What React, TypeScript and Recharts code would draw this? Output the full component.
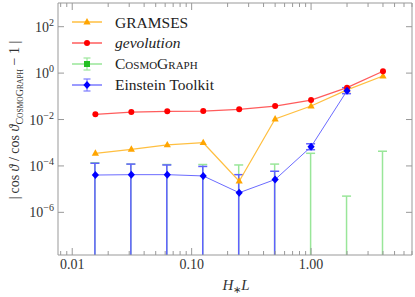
import React from 'react';
import { ComposedChart, Line, Bar, XAxis, YAxis, Legend } from 'recharts';

// box side lengths H_* L
const scales = [0.015625, 0.03125, 0.0625, 0.125, 0.25, 0.5, 1, 2, 4];
const gramses = [3.5e-4, 5.2e-4, 8.0e-4, 1.0e-3, 2.2e-5, 1.05e-2, 3.8e-2, 0.19, 0.75];
const gevolution = [0.0167, 0.021, 0.0225, 0.0232, 0.0275, 0.038, 0.069, 0.235, 1.2];
// CosmoGRAPH: only the upper end of the error bar is visible (centre is 0)
const cosmographUpper = [1.37e-4, 1.2e-4, 1.15e-4, 1.15e-4, 1.1e-4, 1.2e-4, 3.5e-4, 5.0e-6, 4.3e-4];
const einstein = [4.05e-5, 4.2e-5, 4.2e-5, 3.7e-5, 7.0e-6, 2.6e-5, 6.7e-4, 0.174, null];
const einsteinUpper = [1.3e-4, 1.2e-4, 1.1e-4, 9.5e-5, 4.2e-5, 5.9e-5, 9.0e-4, 0.235, null];
const einsteinLower = [0, 0, 0, 0, 0, 0, 5.0e-4, 0.13, null];

const xMajor = [0.01, 0.1, 1];
const xMinor = [0.008, 0.009, 0.02, 0.03, 0.04, 0.05, 0.06, 0.07, 0.08, 0.09,
  0.2, 0.3, 0.4, 0.5, 0.6, 0.7, 0.8, 0.9, 2, 3, 4, 5, 6, 7];
const yTicks = [1e-6, 1e-4, 1e-2, 1, 100];

const X_DOMAIN = [0.0076, 7];
const Y_DOMAIN = [1.45e-8, 1050];
const Y_ZERO = Y_DOMAIN[0]; // zero sits below the log axis, bars run to the bottom edge
const AXIS = '#999';
const SERIF = 'Liberation Serif, Times New Roman, serif';

const data = scales.map((x, i) => ({
  x,
  gramses: gramses[i],
  gevolution: gevolution[i],
  cgRange: [Y_ZERO, cosmographUpper[i]],
  cgLow: 0,
  et: einstein[i],
  etRange: einstein[i] == null ? null : [Math.max(einsteinLower[i] as number, Y_ZERO), einsteinUpper[i]],
  etLow: einsteinLower[i],
}));

const Triangle = ({ cx, cy, fill }: any) => {
  if (cx == null || cy == null) return <g />;
  return <path d={`M${cx},${cy - 4}L${cx + 3.6},${cy + 2.4}L${cx - 3.6},${cy + 2.4}Z`} fill={fill} />;
};
const Diamond = ({ cx, cy, fill }: any) => {
  if (cx == null || cy == null) return <g />;
  return <path d={`M${cx},${cy - 4}L${cx + 3.6},${cy}L${cx},${cy + 4}L${cx - 3.6},${cy}Z`} fill={fill} />;
};
const Circle = ({ cx, cy, fill }: any) => {
  if (cx == null || cy == null) return <g />;
  return <circle cx={cx} cy={cy} r={3} fill={fill} />;
};

// error bar drawn as a thin range bar: whisker + cap on top, cap at bottom only when it has a finite lower end
const makeWhisker = (color: string, lowKey: string) => (props: any) => {
  const { x, y, width, height, payload } = props;
  if (x == null || y == null || !height) return <g />;
  const cx = x + width / 2;
  const hasLow = payload[lowKey] > 0;
  return (
    <g stroke={color} strokeWidth={1.5}>
      <line x1={cx} x2={cx} y1={y} y2={y + height} />
      <line x1={cx - 4.5} x2={cx + 4.5} y1={y} y2={y} />
      {hasLow && <line x1={cx - 4.5} x2={cx + 4.5} y1={y + height} y2={y + height} />}
    </g>
  );
};

const XTickBottom = ({ x, y, payload }: any) => {
  const major = xMajor.includes(payload.value);
  return (
    <g>
      <line x1={x} x2={x} y1={y} y2={y - (major ? 7 : 4)} stroke={AXIS} />
      {major && (
        <text x={x} y={y + 14} textAnchor="middle" fontFamily={SERIF} fontSize={14} fill="#333">
          {payload.value.toFixed(2)}
        </text>
      )}
    </g>
  );
};

const XTickTop = ({ x, y, payload }: any) => {
  const major = xMajor.includes(payload.value);
  return <line x1={x} x2={x} y1={y} y2={y + (major ? 7 : 4)} stroke={AXIS} />;
};

const powLabel = (v: number) => {
  const e = Math.round(Math.log10(v));
  return e < 0 ? `\u2212${-e}` : `${e}`;
};

const YTickLeft = ({ x, y, payload }: any) => (
  <g>
    <line x1={x} x2={x + 6} y1={y} y2={y} stroke={AXIS} />
    <text x={x - 4} y={y + 5} textAnchor="end" fontFamily={SERIF} fontSize={14} fill="#333">
      10<tspan dy={-6} fontSize={10}>{powLabel(payload.value)}</tspan>
    </text>
  </g>
);

const YTickRight = ({ x, y }: any) => <line x1={x} x2={x - 6} y1={y} y2={y} stroke={AXIS} />;

const YLabel = () => (
  <text transform="translate(19,120) rotate(-90)" textAnchor="middle" fontFamily={SERIF} fontSize={14} fill="#333">
    |{'\u2009'}cos <tspan fontStyle="italic">ϑ</tspan> / cos <tspan fontStyle="italic">ϑ</tspan>
    <tspan dy={3.5} fontSize={10}>C</tspan>
    <tspan fontSize={7.5}>OSMO</tspan>
    <tspan fontSize={10}>G</tspan>
    <tspan fontSize={7.5}>RAPH</tspan>
    <tspan dy={-3.5}>{' \u2212 1 |'}</tspan>
  </text>
);

const XLabel = () => (
  <text x={236} y={290} textAnchor="middle" fontFamily={SERIF} fontSize={15} fill="#333">
    <tspan fontStyle="italic">H</tspan>
    <tspan dy={3} fontSize={10}>∗</tspan>
    <tspan dy={-3} fontStyle="italic">L</tspan>
  </text>
);

const legendItems = [
  { id: 'gramses', label: <span>GRAMSES</span>, line: '#ffbf40', color: '#ffa500', marker: 'tri', err: false },
  { id: 'gevolution', label: <i>gevolution</i>, line: '#ff5c5c', color: '#ff0000', marker: 'circ', err: false },
  { id: 'cosmograph', label: <span style={{ fontVariant: 'small-caps' }}>CosmoGraph</span>, line: '#99e699', color: '#22c022', marker: 'sq', err: true },
  { id: 'einstein', label: <span>Einstein Toolkit</span>, line: '#7a7aff', color: '#0000ff', marker: 'dia', err: true },
];

const LegendBox = () => (
  <div style={{ fontFamily: SERIF, fontSize: 15.5, color: '#222', lineHeight: 1 }}>
    {legendItems.map((it) => (
      <div key={it.id} style={{ display: 'flex', alignItems: 'center', height: 20.8 }}>
        <svg width={34} height={20}>
          <line x1={2} x2={32} y1={10} y2={10} stroke={it.line} strokeWidth={1.5} />
          {it.err && (
            <g stroke={it.line} strokeWidth={1.2}>
              <line x1={17} x2={17} y1={4} y2={16} />
              <line x1={13.5} x2={20.5} y1={4} y2={4} />
              <line x1={13.5} x2={20.5} y1={16} y2={16} />
            </g>
          )}
          {it.marker === 'tri' && <Triangle cx={17} cy={10} fill={it.color} />}
          {it.marker === 'circ' && <Circle cx={17} cy={10} fill={it.color} />}
          {it.marker === 'sq' && <rect x={14} y={7} width={6} height={6} fill={it.color} />}
          {it.marker === 'dia' && <Diamond cx={17} cy={10} fill={it.color} />}
        </svg>
        <span style={{ marginLeft: 11 }}>{it.label}</span>
      </div>
    ))}
  </div>
);

const axisCommon = {
  type: 'number' as const,
  scale: 'log' as const,
  allowDataOverflow: true,
  interval: 0 as const,
  stroke: AXIS,
  tickLine: false,
  tickSize: 0,
  tickMargin: 0,
};

export default function App() {
  return (
    <div style={{ position: 'absolute', left: 0, top: 0, background: '#fff' }}>
      <ComposedChart width={415} height={297} data={data} margin={{ top: 2, right: 2, bottom: 0, left: 0 }}>
        <XAxis
          {...axisCommon}
          dataKey="x"
          domain={X_DOMAIN}
          ticks={[...xMajor, ...xMinor]}
          height={42}
          tick={<XTickBottom />}
          label={<XLabel />}
        />
        <XAxis
          {...axisCommon}
          xAxisId="top"
          orientation="top"
          dataKey="x"
          domain={X_DOMAIN}
          ticks={[...xMajor, ...xMinor]}
          height={1}
          tick={<XTickTop />}
        />
        <YAxis
          {...axisCommon}
          domain={Y_DOMAIN}
          ticks={yTicks}
          width={58}
          tick={<YTickLeft />}
          label={<YLabel />}
        />
        <YAxis
          {...axisCommon}
          yAxisId="right"
          orientation="right"
          domain={Y_DOMAIN}
          ticks={yTicks}
          width={1}
          tick={<YTickRight />}
        />
        {/* CosmoGRAPH error bars on the twin axes so they are not grouped with the Einstein Toolkit ones */}
        <Bar
          xAxisId="top"
          yAxisId="right"
          dataKey="cgRange"
          barSize={9}
          fill="#99e699"
          shape={makeWhisker('#99e699', 'cgLow')}
          isAnimationActive={false}
        />
        <Line
          dataKey="gramses"
          stroke="#ffbf40"
          strokeWidth={1.2}
          dot={<Triangle fill="#ffa500" />}
          activeDot={false}
          isAnimationActive={false}
        />
        <Line
          dataKey="gevolution"
          stroke="#ff5c5c"
          strokeWidth={1.3}
          dot={<Circle fill="#ff0000" />}
          activeDot={false}
          isAnimationActive={false}
        />
        <Bar
          dataKey="etRange"
          barSize={9}
          fill="#6060ff"
          shape={makeWhisker('#6060ff', 'etLow')}
          isAnimationActive={false}
        />
        <Line
          dataKey="et"
          stroke="#6b6bff"
          strokeWidth={1}
          dot={<Diamond fill="#0000ff" />}
          activeDot={false}
          isAnimationActive={false}
        />
        <Legend
          layout="vertical"
          align="center"
          verticalAlign="middle"
          wrapperStyle={{ left: 70, top: 12, width: 'auto', height: 'auto' }}
          content={() => <LegendBox />}
        />
      </ComposedChart>
    </div>
  );
}
